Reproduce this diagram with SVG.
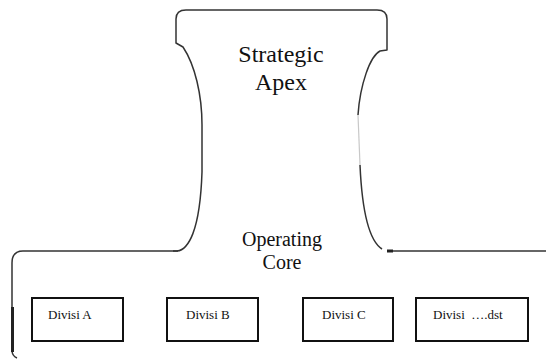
<svg xmlns="http://www.w3.org/2000/svg" width="546" height="360" viewBox="0 0 546 360">
  <style>
    .outline { fill: none; stroke: #333; stroke-width: 1.5; stroke-linejoin: round; }
    .faint { fill: none; stroke: #c8c8c8; stroke-width: 1.2; }
    .mark { fill: none; stroke: #222; stroke-width: 3; }
    .box { fill: #fff; stroke: #111; stroke-width: 2; }
    text { font-family: 'Liberation Serif', 'Times New Roman', Times, serif; fill: #111; }
    .title { font-size: 24px; text-anchor: middle; }
    .core { font-size: 20px; text-anchor: middle; }
    .label { font-size: 13px; }
  </style>
  <rect width="546" height="360" fill="#fff"/>

  <!-- contour of the organisation: apex on top, operating core base below -->
  <g id="organisation-outline">
    <path class="outline" d="M17,358 Q12,356 12,350 V263 Q12,251 23,251 H177 C188,250 200,232 202,172 V125 C202,95 195,65 183,47 L176,43 V19 Q176,10 186,10 H377 Q387,10 387,19 V50 L380,51 C370,56 360,85 358,115"/>
    <path class="faint" d="M358,115 L360,165"/>
    <path class="outline" d="M360,165 C362,210 368,240 382,249"/>
    <path class="outline" d="M387,251 H546"/>
    <path class="mark" d="M387,251 H393"/>
    <path class="mark" d="M12.5,307 V352"/>
    <path class="outline" d="M173,251 H178" stroke-width="2.5"/>
  </g>

  <g id="strategic-apex">
    <text class="title" x="281" y="62">Strategic</text>
    <text class="title" x="281" y="90">Apex</text>
  </g>

  <g id="operating-core">
    <text class="core" x="282" y="246">Operating</text>
    <text class="core" x="282" y="269">Core</text>
  </g>

  <g id="divisi-a">
    <rect class="box" x="32" y="298" width="91" height="43"/>
    <text class="label" x="48" y="319">Divisi A</text>
  </g>

  <g id="divisi-b">
    <rect class="box" x="167" y="298" width="91" height="43"/>
    <text class="label" x="186" y="319">Divisi B</text>
  </g>

  <g id="divisi-c">
    <rect class="box" x="303" y="298" width="90" height="43"/>
    <text class="label" x="322" y="319">Divisi C</text>
  </g>

  <g id="divisi-dst">
    <rect class="box" x="416" y="298" width="112" height="43"/>
    <text class="label" x="433" y="319" xml:space="preserve">Divisi  ….dst</text>
  </g>
</svg>
